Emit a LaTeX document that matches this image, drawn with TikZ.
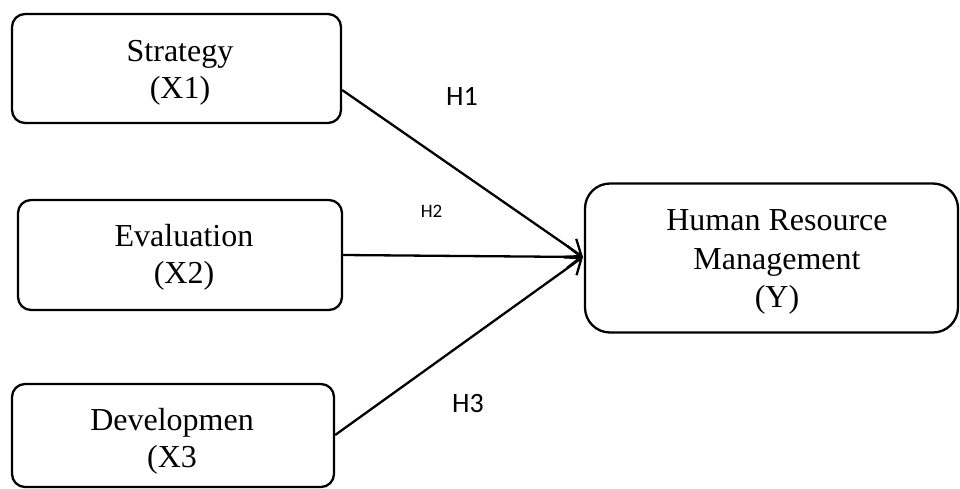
\documentclass[tikz,border=0pt]{standalone}
\usepackage{fontspec}
\setmainfont{Liberation Serif}
\newfontfamily\hfont{Carlito}
\usetikzlibrary{arrows.meta}
\tikzset{
  varbox/.style={draw, line width=2.3pt, rounded corners=13pt, inner sep=0pt},
  vartext/.style={align=center, font=\fontsize{32}{37}\selectfont, inner sep=0pt},
  link/.style={line width=2.3pt, -{Straight Barb[length=14pt,width=22pt,line width=2.3pt]}},
  hlabel/.style={font=\hfont\fontsize{28}{30}\selectfont, anchor=base},
}
\begin{document}
\begin{tikzpicture}[x=1pt,y=-1pt]
\useasboundingbox (0,0) rectangle (960,488);
\node[varbox, minimum width=329pt, minimum height=109pt] (x1) at (176.5,68.5) {};
\node[vartext] (x1t) at (180,73) {Strategy\\(X1)};
\node[varbox, minimum width=324pt, minimum height=110pt] (x2) at (180,255) {};
\node[vartext] (x2t) at (184,257) {Evaluation\\(X2)};
\node[varbox, minimum width=322pt, minimum height=103pt] (x3) at (173,435.5) {};
\node[vartext] (x3t) at (172,441) {Developmen\\(X3};
\node[varbox, rounded corners=25pt, minimum width=373pt, minimum height=149pt] (y) at (771.5,258) {};
\node[vartext, font=\fontsize{32}{38.5}\selectfont] (yt) at (777,262) {Human Resource\\Management\\(Y)};
\coordinate (tip) at (583,257);
\draw[link] (x1.east |- 0,90) -- (tip);
\draw[link] (x2.east) -- (tip);
\draw[link] (x3.east |- 0,435) -- (tip);
\node[hlabel] (h1) at (462,105) {H1};
\node[hlabel, font=\hfont\fontsize{19}{21}\selectfont] (h2) at (431.5,217) {H2};
\node[hlabel] (h3) at (468,412) {H3};
\end{tikzpicture}
\end{document}
